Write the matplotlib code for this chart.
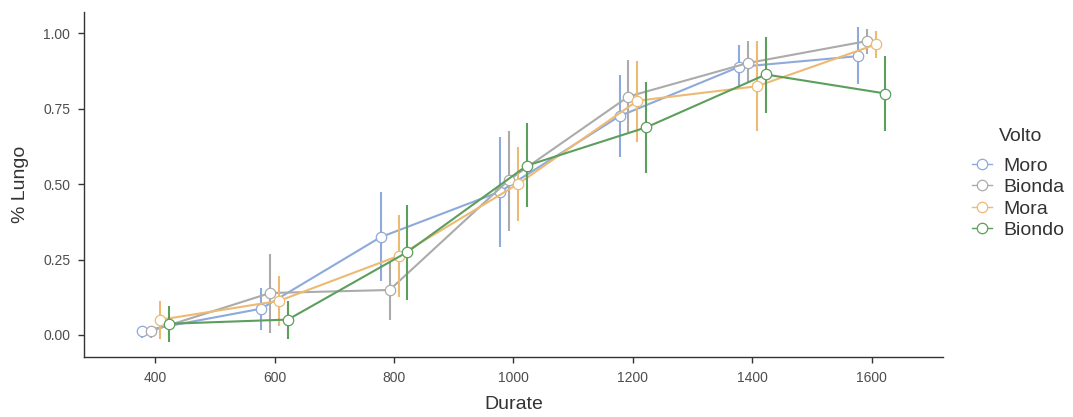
import matplotlib
matplotlib.use("Agg")
import matplotlib.pyplot as plt
from matplotlib.lines import Line2D
import numpy as np

plt.rcParams['font.family'] = ['Liberation Sans', 'DejaVu Sans']

durate = [400, 600, 800, 1000, 1200, 1400, 1600]
groups = ["Moro", "Bionda", "Mora", "Biondo"]
colors = ["#8EA9DB", "#ABABAB", "#EDBA74", "#5C9E5C"]

# mean proportion and error-bar limits per group
mean = {
    "Moro":   [0.013, 0.087, 0.324, 0.475, 0.725, 0.888, 0.924],
    "Bionda": [0.013, 0.139, 0.149, 0.514, 0.790, 0.901, 0.974],
    "Mora":   [0.050, 0.113, 0.262, 0.500, 0.776, 0.824, 0.963],
    "Biondo": [0.037, 0.051, 0.275, 0.561, 0.688, 0.863, 0.800],
}
lower = {
    "Moro":   [-0.009, 0.018, 0.178, 0.291, 0.588, 0.814, 0.831],
    "Bionda": [-0.009, 0.007, 0.051, 0.346, 0.673, 0.838, 0.932],
    "Mora":   [-0.015, 0.029, 0.125, 0.378, 0.640, 0.677, 0.919],
    "Biondo": [-0.024, -0.015, 0.117, 0.424, 0.535, 0.737, 0.677],
}
upper = {
    "Moro":   [0.029, 0.156, 0.472, 0.657, 0.862, 0.960, 1.020],
    "Bionda": [0.029, 0.268, 0.244, 0.677, 0.910, 0.973, 1.013],
    "Mora":   [0.114, 0.194, 0.398, 0.622, 0.907, 0.973, 1.007],
    "Biondo": [0.095, 0.112, 0.432, 0.701, 0.838, 0.987, 0.924],
}

dodge_width = 60
n = len(groups)

fig = plt.figure(figsize=(10.73, 4.17), dpi=100)
ax = fig.add_axes([0.0783, 0.1439, 0.8005, 0.8273])

x = np.array(durate, dtype=float)
for i, (g, c) in enumerate(zip(groups, colors)):
    off = (i - (n - 1) / 2) * dodge_width / n
    xs = x + off
    m = np.array(mean[g])
    lo = np.array(lower[g])
    hi = np.array(upper[g])
    ax.plot(xs, m, color=c, lw=1.5, zorder=2 + i)
    ax.vlines(xs, lo, hi, color=c, lw=1.5, zorder=2 + i)
    ax.plot(xs, m, linestyle='none', marker='o', ms=7.5, mfc='white',
            mec=c, mew=0.9, zorder=2.5 + i)

ax.set_xlim(281, 1719)
ax.set_ylim(-0.073, 1.07)
ax.set_xticks(durate)
ax.set_xticklabels([str(d) for d in durate])
ax.set_yticks([0, 0.25, 0.5, 0.75, 1.0])
ax.set_yticklabels(["0.00", "0.25", "0.50", "0.75", "1.00"])

for side in ("top", "right"):
    ax.spines[side].set_visible(False)
for side in ("left", "bottom"):
    ax.spines[side].set_color("#333333")
    ax.spines[side].set_linewidth(1.0)
ax.tick_params(axis='both', direction='out', length=4, width=1,
               color="#333333", labelcolor="#4D4D4D", labelsize=10, pad=6)

ax.set_xlabel("Durate", fontsize=14, color="#333333", labelpad=8)
ax.set_ylabel("% Lungo", fontsize=14, color="#333333", labelpad=10)

# legend entries, with the title placed above them
handles = [Line2D([0], [0], color=c, lw=1.0, marker='o', ms=7.5, mfc='white',
                  mec=c, mew=0.9) for c in colors]
leg = fig.legend(handles, groups, loc='center left',
                 bbox_to_anchor=(0.906, 0.525), frameon=False, fontsize=14,
                 handlelength=1.0, handletextpad=0.6,
                 labelspacing=0.2, borderaxespad=0, borderpad=0)
for t in leg.get_texts():
    t.set_color("#333333")
fig.text(0.931, 0.6715, "Volto", fontsize=14, color="#333333",
         ha='left', va='center')

fig.savefig("out.png", dpi=100)
